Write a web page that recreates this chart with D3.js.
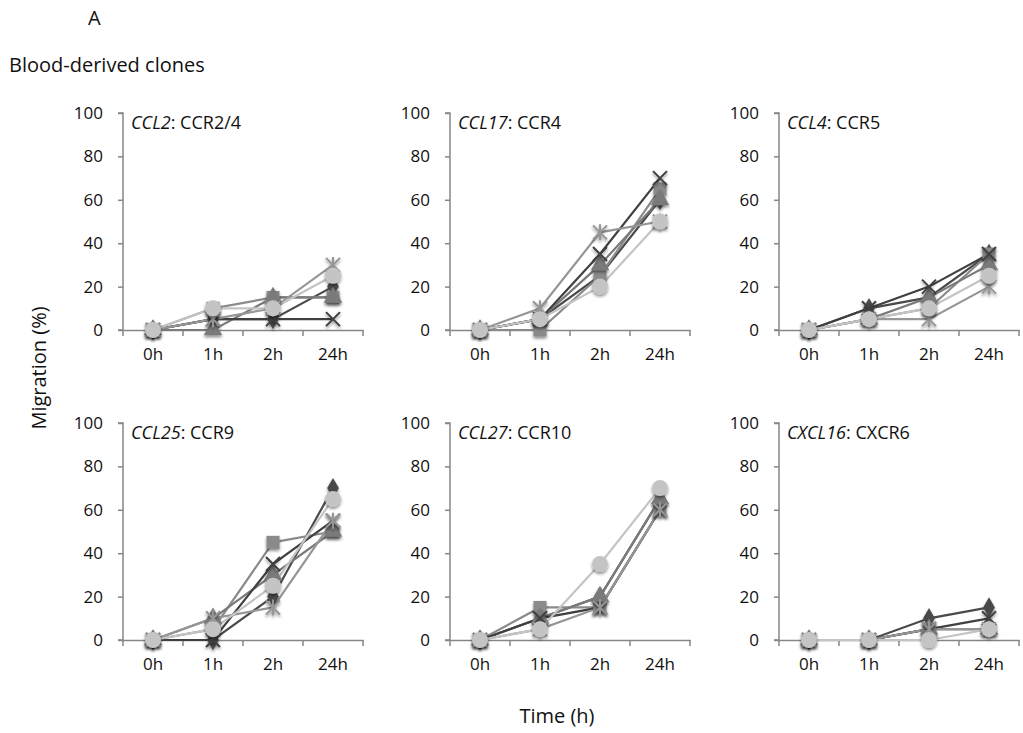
<!DOCTYPE html>
<html>
<head>
<meta charset="utf-8">
<script src="https://cdn.jsdelivr.net/npm/d3@7"></script>
<style>
  body { margin: 0; background: #fff; }
  text { font-family: "Open Sans", "Liberation Sans", sans-serif; fill: #111; }
</style>
</head>
<body>
<svg id="plot"></svg>
<script>
// time points and y ticks
var timePoints = ['0h', '1h', '2h', '24h'];
var yTicks = [0, 20, 40, 60, 80, 100];

// panel titles (italic ligand, receptor)
var ligands = ['CCL2', 'CCL17', 'CCL4', 'CCL25', 'CCL27', 'CXCL16'];
var receptors = ['CCR2/4', 'CCR4', 'CCR5', 'CCR9', 'CCR10', 'CXCR6'];

// one array per clone marker, each row = one panel (same order as ligands)
var diamondSeries = [[0,5,5,20],[0,5,25,60],[0,10,15,35],[0,0,20,70],[0,10,20,65],[0,0,10,15]];
var squareSeries  = [[0,10,15,15],[0,0,25,65],[0,5,10,35],[0,5,45,50],[0,15,15,60],[0,0,5,5]];
var triangleSeries= [[0,0,15,15],[0,5,30,60],[0,5,15,30],[0,10,30,50],[0,10,20,65],[0,0,5,5]];
var xSeries       = [[0,5,5,5],[0,5,35,70],[0,10,20,35],[0,0,35,55],[0,10,15,60],[0,0,5,10]];
var starSeries    = [[0,5,10,30],[0,10,45,50],[0,5,5,20],[0,10,15,55],[0,5,15,60],[0,0,5,5]];
var circleSeries  = [[0,10,10,25],[0,5,20,50],[0,5,10,25],[0,5,25,65],[0,5,35,70],[0,0,0,5]];

var seriesDefs = [
  {name: 'diamond', data: diamondSeries, color: '#4a4a4a'},
  {name: 'square', data: squareSeries, color: '#8a8a8a'},
  {name: 'triangle', data: triangleSeries, color: '#7a7a7a'},
  {name: 'x', data: xSeries, color: '#404040'},
  {name: 'star', data: starSeries, color: '#969696'},
  {name: 'circle', data: circleSeries, color: '#c4c4c4'}
];

var width = 1023, height = 733;
var svg = d3.select('#plot').attr('width', width).attr('height', height);

// drop shadow like the spreadsheet markers
var defs = svg.append('defs');
var f = defs.append('filter').attr('id', 'shadow').attr('x', '-50%').attr('y', '-50%').attr('width', '200%').attr('height', '200%');
f.append('feDropShadow').attr('dx', 0).attr('dy', 2).attr('stdDeviation', 1.6).attr('flood-color', '#000').attr('flood-opacity', 0.45);

var panelX = [123, 450, 779];
var panelTop = [113, 423];
var plotW = 240, plotH = 217;

function markerPath(name) {
  if (name === 'diamond') return d3.symbol(d3.symbolDiamond, 120)();
  if (name === 'square') return d3.symbol(d3.symbolSquare, 170)();
  if (name === 'triangle') return d3.symbol(d3.symbolTriangle, 150)();
  if (name === 'circle') return d3.symbol(d3.symbolCircle, 200)();
  if (name === 'x') return 'M-7,-7L7,7M-7,7L7,-7';
  return 'M-7,-7L7,7M-7,7L7,-7M0,-8L0,8';
}

ligands.forEach(function(lig, p) {
  var row = Math.floor(p / 3), col = p % 3;
  var g = svg.append('g').attr('transform', 'translate(' + panelX[col] + ',' + panelTop[row] + ')');

  var x = d3.scaleBand().domain(timePoints).range([0, plotW]);
  var y = d3.scaleLinear().domain([0, 100]).range([plotH, 0]);

  // y axis
  var ya = g.append('g').call(d3.axisLeft(y).tickValues(yTicks).tickSize(5).tickPadding(15));
  ya.select('.domain').attr('stroke', '#868686').attr('stroke-width', 1.5).attr('d', 'M-5,' + plotH + 'H0V0H-5');
  ya.selectAll('.tick line').attr('stroke', '#868686').attr('stroke-width', 1.5);
  ya.selectAll('.tick text').style('font-size', '17px').style('font-family', '"Open Sans", sans-serif').attr('fill', '#111');

  // x axis
  var xa = g.append('g').attr('transform', 'translate(0,' + plotH + ')').call(d3.axisBottom(x).tickSize(0).tickPadding(18));
  xa.select('.domain').attr('stroke', '#868686').attr('stroke-width', 1.5);
  xa.selectAll('.tick text').style('font-size', '17px').style('font-family', '"Open Sans", sans-serif').attr('fill', '#111');
  g.selectAll('.xtick').data(d3.range(timePoints.length + 1)).enter().append('line')
    .attr('x1', d => d * x.bandwidth()).attr('x2', d => d * x.bandwidth())
    .attr('y1', plotH).attr('y2', plotH + 6)
    .attr('stroke', '#868686').attr('stroke-width', 1.5);

  // title
  var t = g.append('text').attr('x', 8).attr('y', 16).style('font-size', '18px');
  t.append('tspan').style('font-style', 'italic').text(lig);
  t.append('tspan').text(': ' + receptors[p]);

  var line = d3.line().x((d, i) => x(timePoints[i]) + x.bandwidth() / 2).y(d => y(d));

  seriesDefs.forEach(function(s) {
    var vals = s.data[p];
    g.append('path').datum(vals).attr('d', line)
      .attr('fill', 'none').attr('stroke', s.color).attr('stroke-width', 2.2);
  });
  seriesDefs.forEach(function(s) {
    var vals = s.data[p];
    var stroked = (s.name === 'x' || s.name === 'star');
    g.selectAll('.m-' + s.name).data(vals).enter().append('path')
      .attr('class', 'm-' + s.name)
      .attr('transform', (d, i) => 'translate(' + (x(timePoints[i]) + x.bandwidth() / 2) + ',' + y(d) + ')')
      .attr('d', markerPath(s.name))
      .attr('fill', stroked ? 'none' : s.color)
      .attr('stroke', stroked ? s.color : 'none')
      .attr('stroke-width', stroked ? 2 : 0)
      .attr('filter', 'url(#shadow)');
  });
});

// labels
svg.append('text').attr('x', 88).attr('y', 25).style('font-size', '20px').text('A');
svg.append('text').attr('x', 9).attr('y', 72).style('font-size', '20px').text('Blood-derived clones');
svg.append('text').attr('transform', 'translate(46,368) rotate(-90)').attr('text-anchor', 'middle')
  .style('font-size', '20px').text('Migration (%)');
svg.append('text').attr('x', 557).attr('y', 723).attr('text-anchor', 'middle')
  .style('font-size', '20px').text('Time (h)');
</script>
</body>
</html>
